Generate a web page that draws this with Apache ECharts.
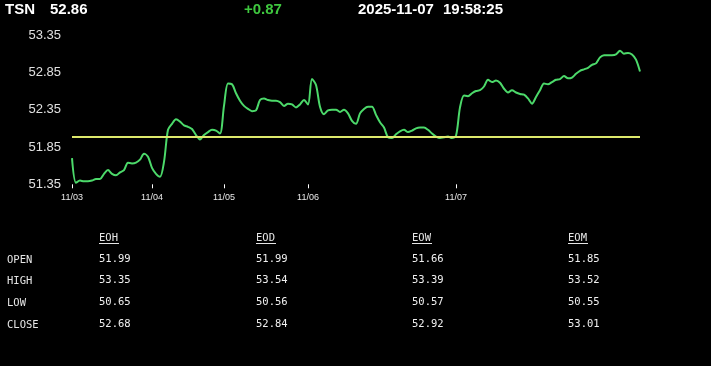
<!DOCTYPE html>
<html>
<head>
<meta charset="utf-8">
<script src="https://cdn.jsdelivr.net/npm/echarts@6/dist/echarts.min.js"></script>
<style>
html,body{margin:0;padding:0;background:#000;}
#c{width:711px;height:366px;}
</style>
</head>
<body>
<div id="c"></div>
<script>
// ---- data ----
var symbol = 'TSN';
var lastPrice = '52.86';
var change = '+0.87';
var dateText = '2025-11-07';
var timeText = '19:58:25';

var dayLabels = ['11/03', '11/04', '11/05', '11/06', '11/07'];
var dayStartIndex = [0, 20, 38, 59, 96];

var prices = [
  51.70, 51.37, 51.40, 51.39, 51.39, 51.40, 51.42, 51.42, 51.49, 51.54,
  51.49, 51.47, 51.51, 51.54, 51.64, 51.63, 51.64, 51.68, 51.76, 51.72,
  51.57, 51.49, 51.45, 51.65, 52.08, 52.16, 52.22, 52.19, 52.14, 52.12,
  52.09, 52.01, 51.95, 52.01, 52.05, 52.08, 52.07, 52.03, 52.40, 52.70,
  52.69, 52.57, 52.47, 52.40, 52.36, 52.33, 52.34, 52.48, 52.50, 52.48,
  52.47, 52.47, 52.45, 52.40, 52.43, 52.42, 52.38, 52.42, 52.48, 52.42,
  52.76, 52.68, 52.39, 52.29, 52.34, 52.35, 52.35, 52.32, 52.35, 52.30,
  52.20, 52.16, 52.30, 52.36, 52.39, 52.39, 52.28, 52.18, 52.11, 51.98,
  51.97, 52.02, 52.06, 52.08, 52.05, 52.07, 52.10, 52.11, 52.11, 52.08,
  52.03, 51.99, 51.97, 51.98, 51.99, 51.97, 52.00, 52.38, 52.54, 52.53,
  52.57, 52.60, 52.61, 52.66, 52.75, 52.72, 52.74, 52.71, 52.63, 52.58,
  52.61, 52.58, 52.56, 52.55, 52.50, 52.43, 52.52, 52.61, 52.70, 52.69,
  52.72, 52.75, 52.76, 52.80, 52.77, 52.78, 52.83, 52.87, 52.89, 52.91,
  52.95, 52.97, 53.05, 53.08, 53.08, 53.08, 53.09, 53.14, 53.10, 53.11,
  53.09, 53.02, 52.86
];
var openLevel = 51.99;

var yTicks = [51.35, 51.85, 52.35, 52.85, 53.35];

var rowLabels = ['OPEN', 'HIGH', 'LOW', 'CLOSE'];
var colLabels = ['EOH', 'EOD', 'EOW', 'EOM'];
var eohValues = ['51.99', '53.35', '50.65', '52.68'];
var eodValues = ['51.99', '53.54', '50.56', '52.84'];
var eowValues = ['51.66', '53.39', '50.57', '52.92'];
var eomValues = ['51.85', '53.52', '50.55', '53.01'];

// ---- build ----
var categories = prices.map(function (p, i) {
  var lab = dayLabels[0];
  for (var k = 0; k < dayStartIndex.length; k++) {
    if (i >= dayStartIndex[k]) lab = dayLabels[k];
  }
  return lab;
});
function isDayStart(i) { return dayStartIndex.indexOf(i) >= 0; }

var mono = '"DejaVu Sans Mono", "Liberation Mono", monospace';
var sans = '"Liberation Sans", Arial, sans-serif';
var graphics = [];
function txt(x, y, s, opt) {
  graphics.push({
    type: 'text', x: x, y: y,
    style: Object.assign({ text: s, fill: '#ffffff', font: 'bold 15px ' + sans, textVerticalAlign: 'middle' }, opt || {})
  });
}
txt(5, 10, symbol);
txt(50, 10, lastPrice);
txt(244, 10, change, { fill: '#3fc83f' });
txt(358, 10, dateText);
txt(443, 10, timeText);

var colX = [99, 256, 412, 568];
var rowY = [259, 280.5, 302, 324];
var colValues = [eohValues, eodValues, eowValues, eomValues];
var tFont = '10.5px ' + mono;
rowLabels.forEach(function (r, j) {
  txt(7, rowY[j] + 1, r, { font: tFont, fill: '#e6e6e6' });
});
colLabels.forEach(function (c, k) {
  txt(colX[k], 238, c, { font: tFont, fill: '#e6e6e6' });
  graphics.push({ type: 'line', shape: { x1: colX[k], y1: 243.5, x2: colX[k] + 20, y2: 243.5 }, style: { stroke: '#e6e6e6', lineWidth: 1 } });
  colValues[k].forEach(function (v, j) {
    txt(colX[k], rowY[j], v, { font: tFont, fill: '#f0f0f0' });
  });
});

var chart = echarts.init(document.getElementById('c'));
chart.setOption({
  backgroundColor: '#000000',
  animation: false,
  grid: { left: 72, right: 71, top: 35, bottom: 366 - 184.3 },
  xAxis: {
    type: 'category',
    data: categories,
    boundaryGap: false,
    axisLine: { show: false },
    axisTick: {
      show: true, length: 4, inside: false,
      interval: function (i) { return isDayStart(i); },
      lineStyle: { color: '#ffffff', width: 1 }
    },
    axisLabel: {
      interval: function (i) { return isDayStart(i); },
      color: '#e8e8e8', fontSize: 9, fontFamily: sans, margin: 9
    },
    splitLine: { show: false }
  },
  yAxis: {
    type: 'value',
    min: yTicks[0],
    max: yTicks[yTicks.length - 1],
    axisLine: { show: false },
    axisTick: { show: false },
    splitLine: { show: false },
    axisLabel: {
      customValues: yTicks,
      formatter: function (v) { return v.toFixed(2); },
      color: '#e0e0e0', fontSize: 13, fontFamily: sans, margin: 11
    }
  },
  series: [{
    type: 'line',
    data: prices,
    smooth: 0.3,
    symbol: 'none',
    lineStyle: { color: '#4cd96a', width: 2 },
    markLine: {
      silent: true,
      symbol: ['none', 'none'],
      label: { show: false },
      lineStyle: { color: '#dde86c', width: 2, type: 'solid' },
      data: [{ yAxis: openLevel }]
    },
    z: 3
  }],
  graphic: graphics
});
</script>
</body>
</html>
